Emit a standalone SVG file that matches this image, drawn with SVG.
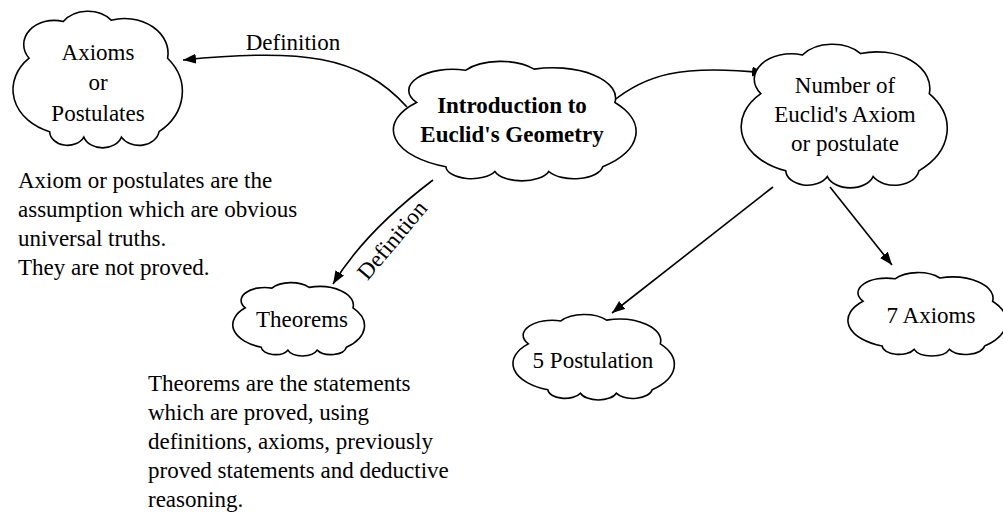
<svg xmlns="http://www.w3.org/2000/svg" width="1003" height="519" viewBox="0 0 1003 519">
<style>
.cloud{fill:#fff;stroke:#000;stroke-width:1.6;vector-effect:non-scaling-stroke}
text{font-family:"Liberation Serif","Times New Roman",serif;font-size:23px;fill:#000}
.c{text-anchor:middle}
.b{font-weight:bold}
.conn{fill:none;stroke:#000;stroke-width:1.6}
</style>
<defs>
<marker id="arr" markerUnits="userSpaceOnUse" markerWidth="14" markerHeight="11" refX="13" refY="5" orient="auto">
<path d="M0,0 L13,5 L0,10 z" fill="#000"/>
</marker>
</defs>
<rect width="1003" height="519" fill="#fff"/>
<g id="connectors">
<path class="conn" d="M407,107 C360,55 300,48 183,60" marker-end="url(#arr)"/>
<path class="conn" d="M612,102 C645,75 680,64 765,73" marker-end="url(#arr)"/>
<path class="conn" d="M433,180 C400,205 360,240 333,284" marker-end="url(#arr)"/>
<path class="conn" d="M773,187 L612,313" marker-end="url(#arr)"/>
<path class="conn" d="M830,187 L892,265" marker-end="url(#arr)"/>
<text class="c" x="293" y="50">Definition</text>
<text class="c" transform="translate(398,245) rotate(-50)">Definition</text>
</g>
<g id="axioms">
<path class="cloud" transform="translate(12,12) scale(1.71,1.36)" d="M10,34 A17.75,17.75 0 0 1 30,7 A17.5,17.5 0 0 1 58,6 A25.5,25.5 0 0 1 91,34 A38.9,38.9 0 0 1 86,88 A11.8,11.8 0 0 1 64,92 A11.6,11.6 0 0 1 42,92 A10.5,10.5 0 0 1 22,88 A33,33 0 0 1 10,34 Z"/>
<text class="c" x="98" y="60">Axioms</text>
<text class="c" x="98" y="90">or</text>
<text class="c" x="98" y="121">Postulates</text>
</g>
<g id="intro">
<path class="cloud" transform="translate(392,62) scale(2.45,1.19)" d="M10,34 A17.75,17.75 0 0 1 30,7 A17.5,17.5 0 0 1 58,6 A25.5,25.5 0 0 1 91,34 A38.9,38.9 0 0 1 86,88 A11.8,11.8 0 0 1 64,92 A11.6,11.6 0 0 1 42,92 A10.5,10.5 0 0 1 22,88 A33,33 0 0 1 10,34 Z"/>
<text class="c b" x="512" y="113">Introduction to</text>
<text class="c b" x="512" y="142">Euclid's Geometry</text>
</g>
<g id="number">
<path class="cloud" transform="translate(740,45) scale(2.08,1.43)" d="M10,34 A17.75,17.75 0 0 1 30,7 A17.5,17.5 0 0 1 58,6 A25.5,25.5 0 0 1 91,34 A38.9,38.9 0 0 1 86,88 A11.8,11.8 0 0 1 64,92 A11.6,11.6 0 0 1 42,92 A10.5,10.5 0 0 1 22,88 A33,33 0 0 1 10,34 Z"/>
<text class="c" x="845" y="93">Number of</text>
<text class="c" x="845" y="122">Euclid's Axiom</text>
<text class="c" x="845" y="151">or postulate</text>
</g>
<g id="theorems">
<path class="cloud" transform="translate(232,283) scale(1.33,0.73)" d="M10,34 A17.75,17.75 0 0 1 30,7 A17.5,17.5 0 0 1 58,6 A25.5,25.5 0 0 1 91,34 A38.9,38.9 0 0 1 86,88 A11.8,11.8 0 0 1 64,92 A11.6,11.6 0 0 1 42,92 A10.5,10.5 0 0 1 22,88 A33,33 0 0 1 10,34 Z"/>
<text class="c" x="302" y="327">Theorems</text>
</g>
<g id="postulation">
<path class="cloud" transform="translate(512,315) scale(1.63,0.85)" d="M10,34 A17.75,17.75 0 0 1 30,7 A17.5,17.5 0 0 1 58,6 A25.5,25.5 0 0 1 91,34 A38.9,38.9 0 0 1 86,88 A11.8,11.8 0 0 1 64,92 A11.6,11.6 0 0 1 42,92 A10.5,10.5 0 0 1 22,88 A33,33 0 0 1 10,34 Z"/>
<text class="c" x="593" y="368">5 Postulation</text>
</g>
<g id="sevenaxioms">
<path class="cloud" transform="translate(847,273) scale(1.6,0.83)" d="M10,34 A17.75,17.75 0 0 1 30,7 A17.5,17.5 0 0 1 58,6 A25.5,25.5 0 0 1 91,34 A38.9,38.9 0 0 1 86,88 A11.8,11.8 0 0 1 64,92 A11.6,11.6 0 0 1 42,92 A10.5,10.5 0 0 1 22,88 A33,33 0 0 1 10,34 Z"/>
<text class="c" x="931" y="323">7 Axioms</text>
</g>
<g id="axiom-note">
<text x="18" y="188">Axiom or postulates are the</text>
<text x="18" y="217">assumption which are obvious</text>
<text x="18" y="246">universal truths.</text>
<text x="18" y="275">They are not proved.</text>
</g>
<g id="theorem-note">
<text x="148" y="391">Theorems are the statements</text>
<text x="148" y="420">which are proved, using</text>
<text x="148" y="449">definitions, axioms, previously</text>
<text x="148" y="478">proved statements and deductive</text>
<text x="148" y="507">reasoning.</text>
</g>
</svg>
